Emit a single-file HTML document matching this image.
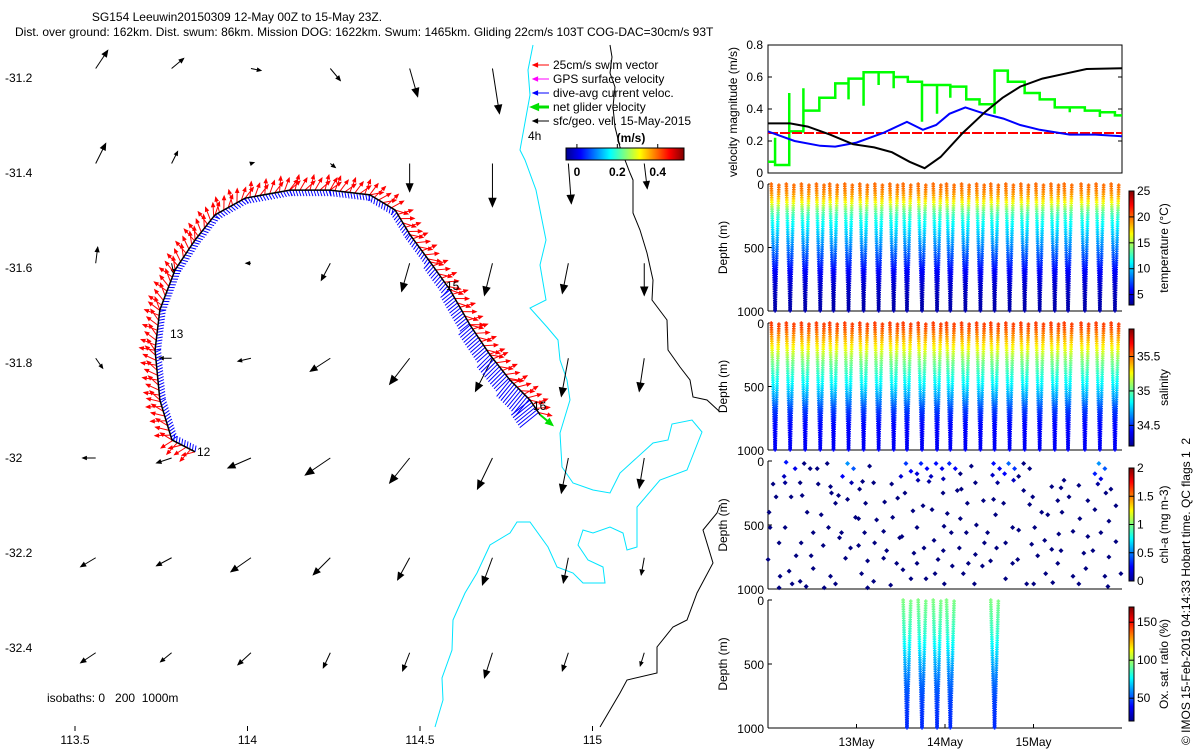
<!DOCTYPE html>
<html><head><meta charset="utf-8">
<style>
html,body{margin:0;padding:0;background:#fff;}
svg{display:block;font-family:"Liberation Sans",sans-serif;}
text{font-size:12px;fill:#000;}
</style></head>
<body>
<svg id="fig" width="1200" height="750" viewBox="0 0 1200 750" xmlns="http://www.w3.org/2000/svg">
<defs>
<linearGradient id="jetH" x1="0" y1="0" x2="1" y2="0">
<stop offset="0" stop-color="#00008f"/><stop offset="0.125" stop-color="#0000ff"/><stop offset="0.375" stop-color="#00ffff"/><stop offset="0.625" stop-color="#ffff00"/><stop offset="0.875" stop-color="#ff0000"/><stop offset="1" stop-color="#800000"/>
</linearGradient>
<linearGradient id="jetV" x1="0" y1="1" x2="0" y2="0">
<stop offset="0" stop-color="#00008f"/><stop offset="0.125" stop-color="#0000ff"/><stop offset="0.375" stop-color="#00ffff"/><stop offset="0.625" stop-color="#ffff00"/><stop offset="0.875" stop-color="#ff0000"/><stop offset="1" stop-color="#800000"/>
</linearGradient>
</defs>
<text x="237" y="21" text-anchor="middle">SG154 Leeuwin20150309 12-May 00Z to 15-May 23Z.</text>
<text x="15" y="36">Dist. over ground: 162km. Dist. swum: 86km. Mission DOG: 1622km. Swum: 1465km. Gliding 22cm/s 103T COG-DAC=30cm/s 93T</text>
<g id="map"></g>
<g id="vel"></g>
<g id="temp"></g>
<g id="sal"></g>
<g id="chl"></g>
<g id="oxy"></g>
<text transform="translate(1190,745) rotate(-90)" style="white-space:pre">© IMOS 15-Feb-2019 04:14:33 Hobart time. QC flags 1  2</text>
</svg>
<script>
// ---------- data ----------
const lonTicks=[113.5,114,114.5,115];
const latTicks=[-31.2,-31.4,-31.6,-31.8,-32,-32.2,-32.4];
const gridLon=[113.56,113.78,114.01,114.24,114.47,114.71,114.93,115.15];
const gridLat=[-31.18,-31.38,-31.59,-31.79,-32.0,-32.21,-32.41];
const curU=[
[0.12,0.12,0.10,0.10,0.08,0.07,0,0],
[0.10,0.06,0.03,0.05,0.00,0.00,0.03,0.03],
[0.02,0.02,-0.05,-0.09,-0.08,-0.08,-0.06,0.0],
[0.07,-0.12,-0.13,-0.20,-0.20,-0.17,-0.07,-0.05],
[-0.13,-0.15,-0.23,-0.25,-0.20,-0.15,-0.07,-0.05],
[-0.15,-0.15,-0.20,-0.17,-0.12,-0.10,-0.05,-0.03],
[-0.15,-0.11,-0.13,-0.07,-0.07,-0.08,-0.06,-0.04]];
const curV=[
[0.18,0.10,-0.02,-0.12,-0.28,-0.45,0,0],
[0.20,0.12,0.01,-0.04,-0.28,-0.43,-0.40,-0.25],
[0.16,-0.10,0.0,-0.17,-0.28,-0.32,-0.30,-0.32],
[-0.10,0.0,-0.03,-0.13,-0.26,-0.33,-0.38,-0.33],
[0.0,-0.05,-0.10,-0.17,-0.25,-0.31,-0.35,-0.30],
[-0.09,-0.08,-0.14,-0.17,-0.22,-0.27,-0.25,-0.17],
[-0.10,-0.09,-0.12,-0.15,-0.18,-0.25,-0.18,-0.13]];
const trackLon=[113.848,113.781,113.746,113.732,113.746,113.79,113.848,113.906,113.993,114.123,114.239,114.355,114.428,114.471,114.529,114.587,114.645,114.703,114.761,114.819,114.848];
const trackLat=[-31.987,-31.962,-31.878,-31.773,-31.688,-31.604,-31.541,-31.488,-31.453,-31.436,-31.436,-31.446,-31.478,-31.530,-31.587,-31.646,-31.720,-31.783,-31.836,-31.878,-31.909];
// isobath outlines (traced screen geometry)
const iso200Px=[[533,45],[528,70],[530,95],[520,150],[525,160],[536,190],[546,240],[540,265],[546,300],[530,308],[547,327],[558,340],[560,360],[567,380],[570,400],[560,433],[562,467],[573,483],[593,490],[610,493],[620,473],[653,443],[668,440],[672,424],[692,420],[702,432],[687,470],[660,480],[637,507],[637,547],[627,550],[623,533],[610,527],[593,533],[583,530],[578,545],[588,560],[603,567],[605,583],[583,583],[573,573],[557,567],[548,547],[530,522],[517,522],[510,533],[490,545],[477,573],[465,593],[453,620],[452,650],[442,678],[443,700],[435,727]];
const iso1000Px=[[610,45],[612,57],[610,73],[615,87],[613,107],[615,127],[620,147],[630,173],[633,180],[633,213],[640,230],[647,253],[653,280],[652,300],[667,320],[668,350],[680,367],[690,380],[693,397],[707,400],[720,412]];
const iso1000bPx=[[720,505],[717,513],[703,530],[713,563],[697,593],[687,620],[673,627],[657,647],[657,673],[627,680],[620,693],[600,727]];
// velocity panel (days since 12-May 00Z)
const blackDay=[0,0.25,0.45,0.7,0.96,1.2,1.4,1.6,1.77,1.95,2.2,2.45,2.65,2.85,3.1,3.35,3.6,4.0];
const blackVal=[0.31,0.31,0.29,0.24,0.18,0.16,0.13,0.07,0.03,0.1,0.25,0.38,0.47,0.54,0.59,0.62,0.65,0.655];
const blueDay=[0,0.3,0.59,0.76,1.0,1.3,1.57,1.75,1.9,2.05,2.23,2.45,2.66,2.85,3.07,3.41,3.7,4.0];
const blueVal=[0.26,0.2,0.17,0.165,0.19,0.25,0.32,0.27,0.3,0.37,0.41,0.37,0.34,0.3,0.27,0.24,0.24,0.23];
const greenStepDay=[0,0.08,0.24,0.4,0.58,0.76,0.91,1.08,1.42,1.58,1.74,2.06,2.24,2.39,2.56,2.71,2.9,3.07,3.24,3.58,3.75,3.92,4.0];
const greenStepVal=[0.07,0.05,0.26,0.39,0.47,0.56,0.59,0.63,0.60,0.57,0.55,0.54,0.46,0.43,0.64,0.57,0.50,0.46,0.41,0.39,0.38,0.36,0.36];
const greenSpikeDay=[0.08,0.24,0.40,0.91,1.08,1.25,1.42,1.74,1.91,2.06,2.56,3.41,3.75];
const greenSpikeVal=[0.22,0.50,0.53,0.46,0.42,0.55,0.53,0.32,0.37,0.47,0.37,0.38,0.35];
const swimSpeed=0.25;
// dives
const diveDay=[0.08,0.25,0.42,0.59,0.74,0.91,1.08,1.25,1.42,1.57,1.74,1.91,2.06,2.23,2.40,2.56,2.73,2.90,3.07,3.24,3.39,3.58,3.75,3.92];
const profDepth=[0,50,100,150,200,250,300,400,500,600,700,800,900,1000];
const tempProf=[20,19.6,18.5,16.5,14,12.5,11.5,10,8.5,7,5.6,4.6,4.1,3.9];
const salProf=[35.6,35.55,35.45,35.35,35.25,35.15,35.05,34.92,34.8,34.65,34.5,34.42,34.4,34.4];
const oxyDives=[9,10,11,12,15];
const oxyProf=[95,93,91,89,86,84,80,72,64,57,52,48,46,45];
const chlDepths=[
[520,640,770,900,180,280,400,990],[170,280,520,740,860,960,10,60,120],[270,400,640,740,940,980,20,60,170],
[180,420,560,660,840,20,60,990],[250,330,520,600,900,960,200,270],[20,60,120,170,300,440,560,680,760],
[220,330,450,560,660,780,880,40,160,990],[170,320,460,550,640,760,940],[180,290,440,600,700,800,970],
[250,390,590,720,850,920,20,80,120],[150,350,520,680,800,920,20,60,100,160],[20,60,120,250,380,510,620,770,880],
[20,60,140,230,410,560,700,820,960],[220,330,450,560,680,800,880,40,100],[170,310,500,640,730,820,960],
[20,60,110,170,300,420,560,680,780],[20,60,100,150,330,520,640,800,920],[230,340,540,650,770,960,20,60,120],
[280,400,520,620,740,880,960],[200,310,420,570,690,800,950],[150,280,400,550,700,900,210],
[190,310,450,590,720,840,960],[20,60,100,140,180,250,380,560,700,900],[220,350,470,630,750,880,980]];
const chlSurfaceVal=[0,0.3,0,0,0.4,0.6,0,0,0,0.4,0.35,0.3,0.35,0,0,0.3,0.5,0,0,0,0,0,0.6,0];

// ---------- helpers ----------
const NS="http://www.w3.org/2000/svg";
function mk(parent,tag,attrs,txt){const e=document.createElementNS(NS,tag);for(const k in attrs)e.setAttribute(k,attrs[k]);if(txt!==undefined)e.textContent=txt;parent.appendChild(e);return e;}
function cl(v){return Math.max(0,Math.min(1,v));}
function jet(t){t=cl(t);const r=cl(1.5-Math.abs(4*t-3)),g=cl(1.5-Math.abs(4*t-2)),b=cl(1.5-Math.abs(4*t-1));return `rgb(${Math.round(r*255)},${Math.round(g*255)},${Math.round(b*255)})`;}
function interp(xs,ys,x){if(x<=xs[0])return ys[0];for(let i=1;i<xs.length;i++){if(x<=xs[i]){const f=(x-xs[i-1])/(xs[i]-xs[i-1]);return ys[i-1]+f*(ys[i]-ys[i-1]);}}return ys[ys.length-1];}

// ---------- map ----------
const map=document.getElementById('map');
const mx=lon=>75+(lon-113.5)*345;
const my=lat=>78+(-31.2-lat)*475;
lonTicks.forEach(v=>{const t=mk(map,'text',{x:mx(v),y:744,'text-anchor':'middle'},String(v));


mk(map,'line',{x1:mx(v),x2:mx(v),y1:726,y2:731,stroke:'#000'});});
latTicks.forEach(v=>{const t=mk(map,'text',{x:5,y:my(v)+4},String(v));

});
function polyPx(g,pts,color,name){const p=mk(g,'polyline',{points:pts.map(q=>q[0]+','+q[1]).join(' '),fill:'none',stroke:color,'stroke-width':1});

}
polyPx(map,iso200Px,'#00e5ff','isobath-200m');
polyPx(map,iso1000Px,'#000','isobath-1000m');
polyPx(map,iso1000bPx,'#000','isobath-1000m-south');
function arrow(g,x1,y1,x2,y2,color,w,head){const l=mk(g,'line',{x1,y1,x2,y2,stroke:color,'stroke-width':w});
const a=Math.atan2(y2-y1,x2-x1);const h=head;
mk(g,'polygon',{points:`${x2},${y2} ${x2-h*Math.cos(a-0.4)},${y2-h*Math.sin(a-0.4)} ${x2-h*Math.cos(a+0.4)},${y2-h*Math.sin(a+0.4)}`,fill:color,stroke:color,'stroke-width':w});return l;}
const S=100;
gridLat.forEach((la,i)=>gridLon.forEach((lo,j)=>{const u=curU[i][j],v=curV[i][j];if(u===0&&v===0)return;
const x=mx(lo),y=my(la);const a=arrow(map,x,y,x+u*S,y-v*S,'#000',1,Math.max(4,Math.min(9,Math.hypot(u,v)*S*0.3)));

}));
// track + swim vectors
const tp=trackLon.map((lo,i)=>[mx(lo),my(trackLat[i])]);
const tg=mk(map,'g',{});


for(let i=1;i<tp.length;i++){const [x0,y0]=tp[i-1],[x1,y1]=tp[i];const L=Math.hypot(x1-x0,y1-y0);const dx=(x1-x0)/L,dy=(y1-y0)/L;
 for(let s=0;s<L;s+=3){const x=x0+dx*s,y=y0+dy*s;const nx=dy,ny=-dx;
  const bl=6+(i>14?(i-14)*3:0);
  mk(tg,'line',{x1:x,y1:y,x2:x-nx*bl+dx*2,y2:y-ny*bl+dy*2,stroke:'#0000ff','stroke-width':1});}}
for(let i=1;i<tp.length;i++){const [x0,y0]=tp[i-1],[x1,y1]=tp[i];const L=Math.hypot(x1-x0,y1-y0);const dx=(x1-x0)/L,dy=(y1-y0)/L;
 for(let s=0;s<L;s+=5){const x=x0+dx*s,y=y0+dy*s;const nx=dy,ny=-dx;const k=(Math.floor(s)%3);
  arrow(tg,x,y,x+nx*(9+k*3)+dx*(10-k*3),y+ny*(9+k*3)+dy*(10-k*3),'#ff0000',1,4);}}
const tl=mk(map,'polyline',{points:tp.map(p=>p.join(',')).join(' '),fill:'none',stroke:'#000','stroke-width':1.5});


arrow(map,tp[tp.length-1][0],tp[tp.length-1][1],tp[tp.length-1][0]+12,tp[tp.length-1][1]+10,'#00e000',2,6);
[['12',197,456],['13',170,338],['15',446,290],['16',533,410],['4h',528,140]].forEach(d=>{const t=mk(map,'text',{x:d[1],y:d[2]},d[0]);

});
const iso=mk(map,'text',{x:47,y:702,style:'white-space:pre'},'isobaths: 0   200  1000m');


// legend
const legItems=[['25cm/s swim vector','#ff0000',1],['GPS surface velocity','#ff00ff',1],['dive-avg current veloc.','#0000ff',1],['net glider velocity','#00e000',3],['sfc/geo. vel. 15-May-2015','#000',1]];
legItems.forEach((it,k)=>{const y=65+k*14;arrow(map,549,y,533,y,it[1],it[2],5);
const t=mk(map,'text',{x:553,y:y+4},it[0]);

});
const cbU=mk(map,'text',{x:631,y:142,'text-anchor':'middle','font-weight':'bold'},'(m/s)');


const cbm=mk(map,'rect',{x:566,y:148,width:118,height:12,fill:'url(#jetH)',stroke:'#000'});


[0,0.2,0.4].forEach(v=>{const x=566+(v+0.054)/0.584*118;mk(map,'line',{x1:x,x2:x,y1:148,y2:144,stroke:'#000'});
const t=mk(map,'text',{x:x,y:176,'text-anchor':'middle','font-weight':'bold'},String(v));

});

// ---------- time panels ----------
const X0=768,X1=1122;const tx=d=>X0+d*(X1-X0)/4;
function frame(g,top,bot){mk(g,'rect',{x:X0,y:top,width:X1-X0,height:bot-top,fill:'none',stroke:'#000','stroke-width':1});}
const vel=document.getElementById('vel');const VT=45,VB=173;const vy=v=>VB-v/0.8*(VB-VT);
frame(vel,VT,VB);
[0,0.2,0.4,0.6,0.8].forEach(v=>{mk(vel,'line',{x1:X0,x2:X0+4,y1:vy(v),y2:vy(v),stroke:'#000'});mk(vel,'line',{x1:X1,x2:X1-4,y1:vy(v),y2:vy(v),stroke:'#000'});
const t=mk(vel,'text',{x:763,y:vy(v)+4,'text-anchor':'end'},String(v));

});
const vl=mk(vel,'text',{transform:`translate(737,${(VT+VB)/2+3}) rotate(-90)`,'text-anchor':'middle'},'velocity magnitude (m/s)');


let gp='';greenStepDay.forEach((d,i)=>{if(i===0)gp+=`M${tx(d)},${vy(greenStepVal[i])}`;else gp+=`L${tx(d)},${vy(greenStepVal[i-1])}L${tx(d)},${vy(greenStepVal[i])}`;});
greenSpikeDay.forEach((d,i)=>{let bv=greenStepVal[0];for(let k=0;k<greenStepDay.length;k++)if(greenStepDay[k]<=d)bv=greenStepVal[k];gp+=`M${tx(d)},${vy(bv)}L${tx(d)},${vy(greenSpikeVal[i])}`;});
const gl=mk(vel,'path',{d:gp,fill:'none',stroke:'#00ff00','stroke-width':2.5});


const rl=mk(vel,'line',{x1:X0,x2:X1,y1:vy(swimSpeed),y2:vy(swimSpeed),stroke:'#ff0000','stroke-width':2,'stroke-dasharray':'10 2'});


const bll=mk(vel,'polyline',{points:blueDay.map((d,i)=>tx(d)+','+vy(blueVal[i])).join(' '),fill:'none',stroke:'#0000ff','stroke-width':2});


const bkl=mk(vel,'polyline',{points:blackDay.map((d,i)=>tx(d)+','+vy(blackVal[i])).join(' '),fill:'none',stroke:'#000','stroke-width':2});



function depthPanel(id,top,bot,cbTop,cbBot,cmin,cmax,ticks,label,fill,xlabels){
 const g=document.getElementById(id);const dy=d=>top+d/1000*(bot-top);
 mk(g,'line',{x1:X0,x2:X0,y1:top,y2:bot,stroke:'#000'});mk(g,'line',{x1:X0,x2:X1,y1:bot,y2:bot,stroke:'#000'});
 [0,500,1000].forEach(v=>{mk(g,'line',{x1:X0,x2:X0+4,y1:dy(v),y2:dy(v),stroke:'#000'});
 const t=mk(g,'text',{x:764,y:dy(v)+5,'text-anchor':'end'},String(v));
 
 });
 const yl=mk(g,'text',{transform:`translate(727,${(top+bot)/2}) rotate(-90)`,'text-anchor':'middle'},'Depth (m)');
 
 
 fill(g,dy,v=>jet((v-cmin)/(cmax-cmin)));
 const cb=mk(g,'rect',{x:1129,y:cbTop,width:5,height:cbBot-cbTop,fill:'url(#jetV)',stroke:'#000'});
 
 
 ticks.forEach(v=>{const y=cbBot-(v-cmin)/(cmax-cmin)*(cbBot-cbTop);mk(g,'line',{x1:1129,x2:1134,y1:y,y2:y,stroke:'#000'});
 const t=mk(g,'text',{x:1137,y:y+4},String(v));
 
 });
 const cl2=mk(g,'text',{transform:`translate(1168,${(cbTop+cbBot)/2}) rotate(-90)`,'text-anchor':'middle'},label);
 
 
 if(xlabels){[1,2,3].forEach(d=>{mk(g,'line',{x1:tx(d),x2:tx(d),y1:bot,y2:bot-4,stroke:'#000'});
 const t=mk(g,'text',{x:tx(d),y:bot+18,'text-anchor':'middle'},(12+d)+'May');
 
 });}
}
function plus(g,x,y,c){mk(g,'path',{d:`M${x-1.8},${y}h3.6M${x},${y-1.8}v3.6`,stroke:c,'stroke-width':1.5});}
function profileFill(vals,only){return (g,dy,col)=>{diveDay.forEach((c,k)=>{if(only&&!only.includes(k))return;
 for(let d=0;d<=1000;d+=18){const v=interp(profDepth,vals,d);const off=(1-d/1000)*3.8;
  plus(g,tx(c)-off,dy(d),col(v));plus(g,tx(c)+off,dy(d+9),col(interp(profDepth,vals,d+9)));}});};}
depthPanel('temp',184,311,191,305,3,25,[5,10,15,20,25],'temperature (°C)',profileFill(tempProf));
depthPanel('sal',323,450,329,446,34.2,35.9,[34.5,35,35.5],'salinity',profileFill(salProf));
depthPanel('chl',461,589,468,581,0,2,[0,0.5,1,1.5,2],'chl-a (mg m-3)',(g,dy,col)=>{diveDay.forEach((c,k)=>{chlDepths[k].forEach((d,j)=>{const x=tx(c)+(j%2?4:-4)+(d%7)-3;const v=d<200?chlSurfaceVal[k]*(1-d/200):0;
 mk(g,'path',{d:`M${x},${dy(d)-2.5}l2.5,2.5l-2.5,2.5l-2.5,-2.5z`,fill:col(v)});});});});
depthPanel('oxy',600,728,607,721,20,170,[50,100,150],'Ox. sat. ratio (%)',profileFill(oxyProf,oxyDives),true);
</script>
</body></html>
